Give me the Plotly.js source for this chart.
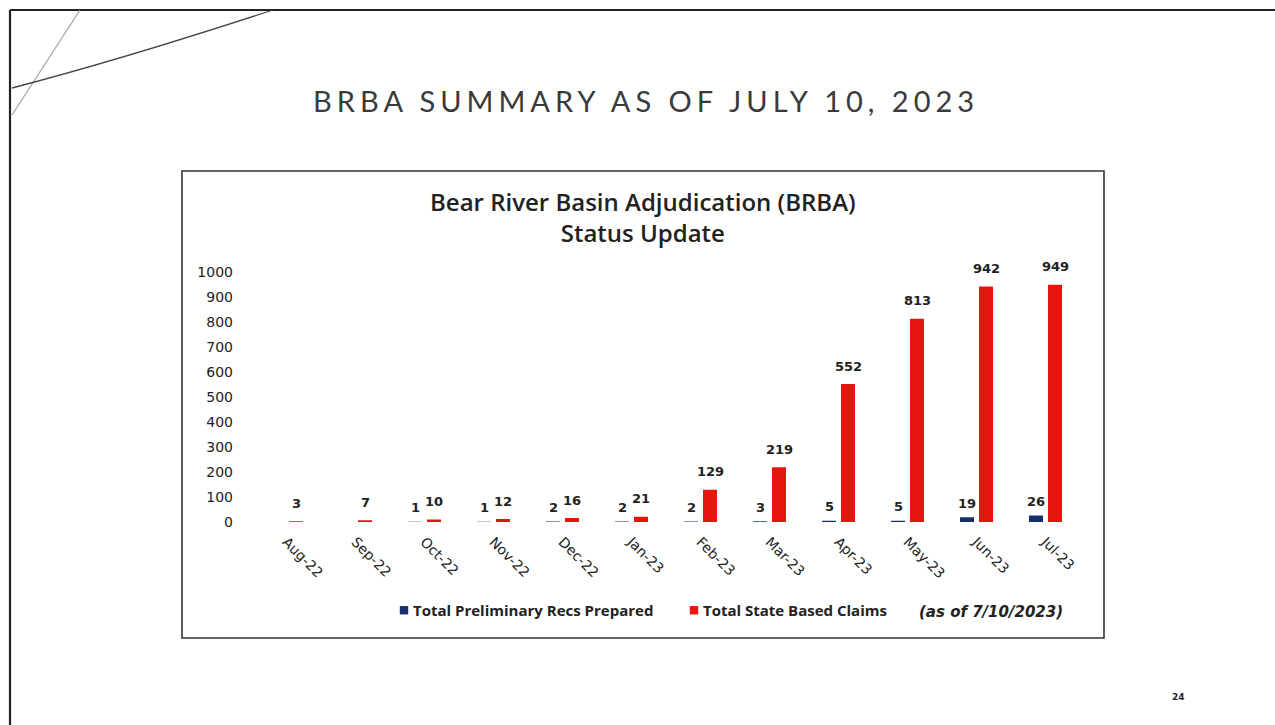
<!DOCTYPE html>
<html>
<head>
<meta charset="utf-8">
<script src="https://cdn.plot.ly/plotly-3.0.1.min.js"></script>
<style>
html,body{margin:0;padding:0;background:#fff;}
#chart{width:1275px;height:725px;}
</style>
</head>
<body>
<div id="chart"></div>
<script>
// ---- data ----
const months = ["Aug-22","Sep-22","Oct-22","Nov-22","Dec-22","Jan-23","Feb-23","Mar-23","Apr-23","May-23","Jun-23","Jul-23"];
const prelimRecs = [null, null, 1, 1, 2, 2, 2, 3, 5, 5, 19, 26];
const stateClaims = [3, 7, 10, 12, 16, 21, 129, 219, 552, 813, 942, 949];
const seriesNames = ["Total Preliminary Recs Prepared", "Total State Based Claims"];
const slideTitle = "BRBA SUMMARY AS OF JULY 10, 2023";
const chartTitle = "Bear River Basin Adjudication (BRBA)<br>Status Update";
const asOfNote = "(as of 7/10/2023)";
const pageNumber = "24";

// ---- layout geometry (pixels) ----
const W = 1275, H = 725;
const L = 252, R = 1080, T = 272, B = 522;
const PW = R - L, PH = B - T;
const px = X => (X - L) / PW;
const py = Y => 1 - (Y - T) / PH;

const numFont = "DejaVu Sans, Verdana, sans-serif";
const txtFont = "Open Sans, Lato, sans-serif";

const traces = [
  {type: "bar", name: seriesNames[0], x: months, y: prelimRecs,
   marker: {color: "#14306b"}, hoverinfo: "x+y+name"},
  {type: "bar", name: seriesNames[1], x: months, y: stateClaims,
   marker: {color: "#e4160e"}, hoverinfo: "x+y+name"}
];

function line(x0, y0, x1, y1, color, width) {
  return {type: "line", xref: "paper", yref: "paper",
    x0: px(x0), y0: py(y0), x1: px(x1), y1: py(y1),
    line: {color: color, width: width}, layer: "above"};
}

const shapes = [
  line(10, 10, 1275, 10, "#222", 2.2),
  line(10, 10, 10, 725, "#222", 2.2),
  line(12, 115, 80, 10, "#a0a0a0", 1.2),
  {type: "path", xref: "paper", yref: "paper",
   path: `M ${px(12)} ${py(88)} Q ${px(120)} ${py(60)} ${px(273)} ${py(10)}`,
   line: {color: "#444", width: 1.3}},
  {type: "rect", xref: "paper", yref: "paper",
   x0: px(182), y0: py(171), x1: px(1104), y1: py(638),
   line: {color: "#333", width: 1.6}, fillcolor: "rgba(0,0,0,0)", layer: "below"}
];

const labelFont = {family: numFont, size: 13, color: "#222", weight: "bold"};
const barLabels = [];
months.forEach((m, i) => {
  if (prelimRecs[i] != null) {
    barLabels.push({xref: "x", yref: "y", x: m, y: prelimRecs[i], xshift: -9.5, yshift: 14,
      xanchor: "center", yanchor: "middle", text: String(prelimRecs[i]), showarrow: false, font: labelFont});
  }
  if (stateClaims[i] != null) {
    barLabels.push({xref: "x", yref: "y", x: m, y: stateClaims[i], xshift: 9.5, yshift: 18,
      xanchor: "center", yanchor: "middle", text: String(stateClaims[i]), showarrow: false, font: labelFont});
  }
});

const annotations = [
  {xref: "paper", yref: "paper", x: px(646), y: py(101), xanchor: "center", yanchor: "middle",
   text: slideTitle, showarrow: false,
   font: {family: "Lato, Open Sans, sans-serif", size: 29, color: "#3a3a3a"}},
  {xref: "paper", yref: "paper", x: px(643), y: py(217), xanchor: "center", yanchor: "middle",
   text: chartTitle, showarrow: false,
   font: {family: txtFont, size: 24, color: "#222", weight: 600}},
  {xref: "paper", yref: "paper", x: px(917), y: py(612), xanchor: "left", yanchor: "middle",
   text: asOfNote, showarrow: false,
   font: {family: numFont, size: 15, color: "#222", style: "italic", weight: "bold"}},
  {xref: "paper", yref: "paper", x: px(1178), y: py(697), xanchor: "center", yanchor: "middle",
   text: pageNumber, showarrow: false,
   font: {family: numFont, size: 9, color: "#222", weight: "bold"}}
].concat(barLabels);

const layout = {
  width: W, height: H,
  margin: {l: L, r: W - R, t: T, b: H - B, pad: 0},
  paper_bgcolor: "#fff", plot_bgcolor: "#fff",
  barmode: "group", bargap: 0.45, bargroupgap: 0.26,
  showlegend: true,
  legend: {orientation: "h", x: px(373), y: py(594), xanchor: "left", yanchor: "top",
    font: {family: txtFont, size: 15, color: "#222", weight: 700},
    itemwidth: 30, entrywidth: 245, bgcolor: "rgba(0,0,0,0)"},
  xaxis: {type: "category", range: [-0.5, 11.5], tickangle: 45,
    showgrid: false, zeroline: false, showline: false, ticks: "",
    ticklabelstandoff: 8,
    tickfont: {family: numFont, size: 14, color: "#222"}, fixedrange: true},
  yaxis: {range: [0, 1000], dtick: 100, tick0: 0,
    showgrid: false, zeroline: false, showline: false, ticks: "",
    ticklabelstandoff: 18,
    tickfont: {family: numFont, size: 14, color: "#222"}, fixedrange: true},
  shapes: shapes,
  annotations: annotations
};

Plotly.newPlot("chart", traces, layout, {displayModeBar: false, staticPlot: true}).then(() => {
  document.querySelectorAll("#chart .annotation-text").forEach(t => {
    if (t.textContent === slideTitle) t.style.letterSpacing = "5px";
  });
  document.querySelectorAll("#chart .legendpoints path").forEach(p => {
    const prev = p.getAttribute("transform") || "";
    p.setAttribute("transform", prev + " translate(11,0) scale(0.7)");
  });
});
</script>
</body>
</html>
